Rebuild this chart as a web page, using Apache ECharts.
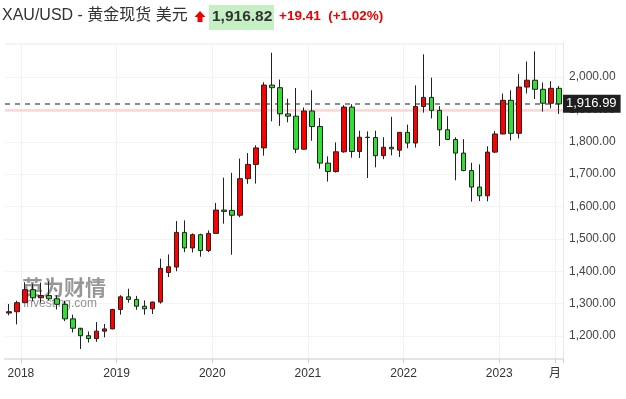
<!DOCTYPE html>
<html>
<head>
<meta charset="utf-8">
<script src="https://cdn.jsdelivr.net/npm/echarts@6/dist/echarts.min.js"></script>
<style>
html, body { margin: 0; padding: 0; background: #fff; }
#chartmain { width: 626px; height: 399px; }
</style>
</head>
<body>
<div id="chartmain"></div>
<script>
// 月份（2017-11 ~ 2023-08）
var months = [
    '2017-11','2017-12',
    '2018-01','2018-02','2018-03','2018-04','2018-05','2018-06','2018-07','2018-08','2018-09','2018-10','2018-11','2018-12',
    '2019-01','2019-02','2019-03','2019-04','2019-05','2019-06','2019-07','2019-08','2019-09','2019-10','2019-11','2019-12',
    '2020-01','2020-02','2020-03','2020-04','2020-05','2020-06','2020-07','2020-08','2020-09','2020-10','2020-11','2020-12',
    '2021-01','2021-02','2021-03','2021-04','2021-05','2021-06','2021-07','2021-08','2021-09','2021-10','2021-11','2021-12',
    '2022-01','2022-02','2022-03','2022-04','2022-05','2022-06','2022-07','2022-08','2022-09','2022-10','2022-11','2022-12',
    '2023-01','2023-02','2023-03','2023-04','2023-05','2023-06','2023-07','2023-08'
];
var openData = [
    1271,1275,
    1303,1343,1318,1325,1315,1298,1253,1224,1201,1192,1215,1222,
    1282,1321,1313,1292,1284,1305,1396,1413,1520,1472,1513,1464,
    1517,1589,1588,1573,1686,1730,1781,1975,1967,1886,1879,1777,
    1895,1847,1734,1708,1769,1907,1770,1814,1813,1757,1783,1774,
    1829,1796,1909,1937,1897,1837,1807,1765,1711,1660,1633,1768,
    1824,1928,1826,1969,1990,1962,1919,1965
];
var closeData = [
    1275,1303,
    1343,1318,1325,1315,1298,1253,1224,1201,1192,1215,1222,1282,
    1321,1313,1292,1284,1305,1409,1414,1520,1472,1513,1464,1517,
    1589,1585,1573,1686,1730,1781,1975,1967,1886,1879,1777,1895,
    1847,1734,1708,1769,1907,1770,1814,1813,1757,1783,1778,1829,
    1796,1909,1937,1897,1837,1807,1765,1711,1660,1633,1768,1824,
    1928,1826,1969,1990,1962,1919,1965,1917
];
var lowData = [
    1264,1236,
    1302,1307,1303,1310,1282,1246,1211,1160,1180,1182,1196,1221,
    1266,1303,1281,1266,1268,1300,1382,1400,1459,1458,1445,1459,
    1517,1547,1451,1567,1670,1671,1757,1863,1849,1860,1765,1776,
    1803,1717,1677,1705,1766,1751,1750,1688,1721,1746,1758,1753,
    1780,1782,1890,1872,1787,1805,1681,1709,1615,1617,1616,1765,
    1823,1804,1810,1949,1932,1893,1903,1886
];
var highData = [
    1299,1309,
    1366,1361,1365,1369,1326,1309,1266,1218,1214,1243,1237,1284,
    1326,1346,1324,1310,1306,1439,1452,1555,1557,1517,1516,1526,
    1611,1689,1704,1748,1765,1789,1984,2075,1992,1933,1966,1906,
    1959,1873,1755,1798,1913,1916,1834,1832,1834,1814,1877,1830,
    1853,1974,2070,1998,1910,1879,1814,1808,1735,1730,1786,1833,
    1949,1959,2009,2048,2079,1983,1987,1972
];
var lastPrice = 1916.99;
var prevClose = 1897.41;

var candleData = [];
for (var i = 0; i < months.length; i++) {
    candleData.push([openData[i], closeData[i], lowData[i], highData[i]]);
}

var fontLatin = 'Liberation Sans, Arial, Noto Sans CJK SC, sans-serif';

function isYearStart(index, value) {
    return value.slice(5) == '01' || index == months.length - 1;
}

var option = {
    animation: false,
    grid: {
        left: 5,
        right: 63,
        top: 43,
        bottom: 40
    },
    xAxis: {
        type: 'category',
        data: months,
        boundaryGap: true,
        axisLine: {
            show: true,
            lineStyle: { color: '#e3e3e3', width: 2 }
        },
        axisTick: {
            show: true,
            interval: isYearStart,
            length: 4,
            lineStyle: { color: '#d0d0d0' }
        },
        axisLabel: {
            interval: isYearStart,
            color: '#333',
            fontSize: 12,
            fontFamily: fontLatin,
            margin: 9,
            padding: [0, 8, 0, 0],
            formatter: function (value, index) {
                if (index == months.length - 1) {
                    return '月';
                }
                return value.slice(0, 4);
            }
        },
        splitLine: {
            show: true,
            interval: isYearStart,
            lineStyle: { color: '#f2f2f2' }
        }
    },
    yAxis: {
        type: 'value',
        position: 'right',
        scale: true,
        min: 1129,
        max: 2105,
        splitNumber: 10,
        axisLine: {
            show: true,
            lineStyle: { color: '#e6e6e6' }
        },
        axisTick: { show: false },
        axisLabel: {
            showMinLabel: false,
            showMaxLabel: false,
            color: '#444',
            fontSize: 12,
            fontFamily: fontLatin,
            margin: 6,
            formatter: function (v) {
                if (v > 2050) return '';
                return v.toLocaleString('en-US', { minimumFractionDigits: 2, maximumFractionDigits: 2 });
            }
        },
        splitLine: {
            show: true,
            lineStyle: { color: '#f4f4f4' }
        }
    },
    graphic: [
        // 标题
        {
            type: 'text',
            left: 2,
            top: 8,
            style: {
                text: 'XAU/USD - 黄金现货 美元',
                fill: '#333',
                font: '16px ' + fontLatin
            }
        },
        {
            type: 'polygon',
            shape: { points: [[200, 11], [205.5, 17], [202.5, 17], [202.5, 22], [197.5, 22], [197.5, 17], [194.5, 17]] },
            style: { fill: '#ee0000' }
        },
        {
            type: 'rect',
            shape: { x: 209, y: 5, width: 65, height: 25 },
            style: { fill: '#c4f0c4' }
        },
        {
            type: 'text',
            left: 212,
            top: 9,
            style: {
                text: '1,916.82',
                fill: '#333',
                font: 'bold 15.5px ' + fontLatin
            }
        },
        {
            type: 'text',
            left: 279,
            top: 10,
            style: {
                text: '+19.41  (+1.02%)',
                fill: '#ee0000',
                font: 'bold 13.5px ' + fontLatin
            }
        },
        // 水印
        {
            type: 'text',
            left: 22,
            top: 277,
            z: 1,
            style: {
                text: '英为财情',
                fill: 'rgba(95,95,95,0.65)',
                font: 'bold 21px Noto Sans CJK SC, sans-serif'
            }
        },
        {
            type: 'text',
            left: 23,
            top: 298,
            z: 1,
            style: {
                text: 'Investing.com',
                fill: 'rgba(100,100,100,0.7)',
                font: '12px ' + fontLatin
            }
        }
    ],
    series: [
        {
            type: 'candlestick',
            data: candleData,
            barWidth: 5,
            z: 3,
            itemStyle: {
                color: '#ff0000',
                color0: '#33dd33',
                borderColor: '#222',
                borderColor0: '#222',
                borderWidth: 1
            },
            markLine: {
                silent: true,
                symbol: 'none',
                z: 2,
                data: [
                    {
                        yAxis: prevClose,
                        lineStyle: { color: '#ffd4d4', type: 'solid', width: 2.5 },
                        label: { show: false }
                    },
                    {
                        yAxis: lastPrice,
                        lineStyle: { color: '#666', type: [5, 5], width: 1.5 },
                        label: {
                            show: true,
                            position: 'end',
                            distance: 0,
                            formatter: '1,916.99',
                            backgroundColor: '#1f1f1f',
                            color: '#fff',
                            fontSize: 13,
                            fontFamily: fontLatin,
                            padding: [3, 4, 2, 3]
                        }
                    }
                ]
            }
        }
    ]
};

var myChart = echarts.init(document.getElementById('chartmain'));
myChart.setOption(option);
</script>
</body>
</html>
